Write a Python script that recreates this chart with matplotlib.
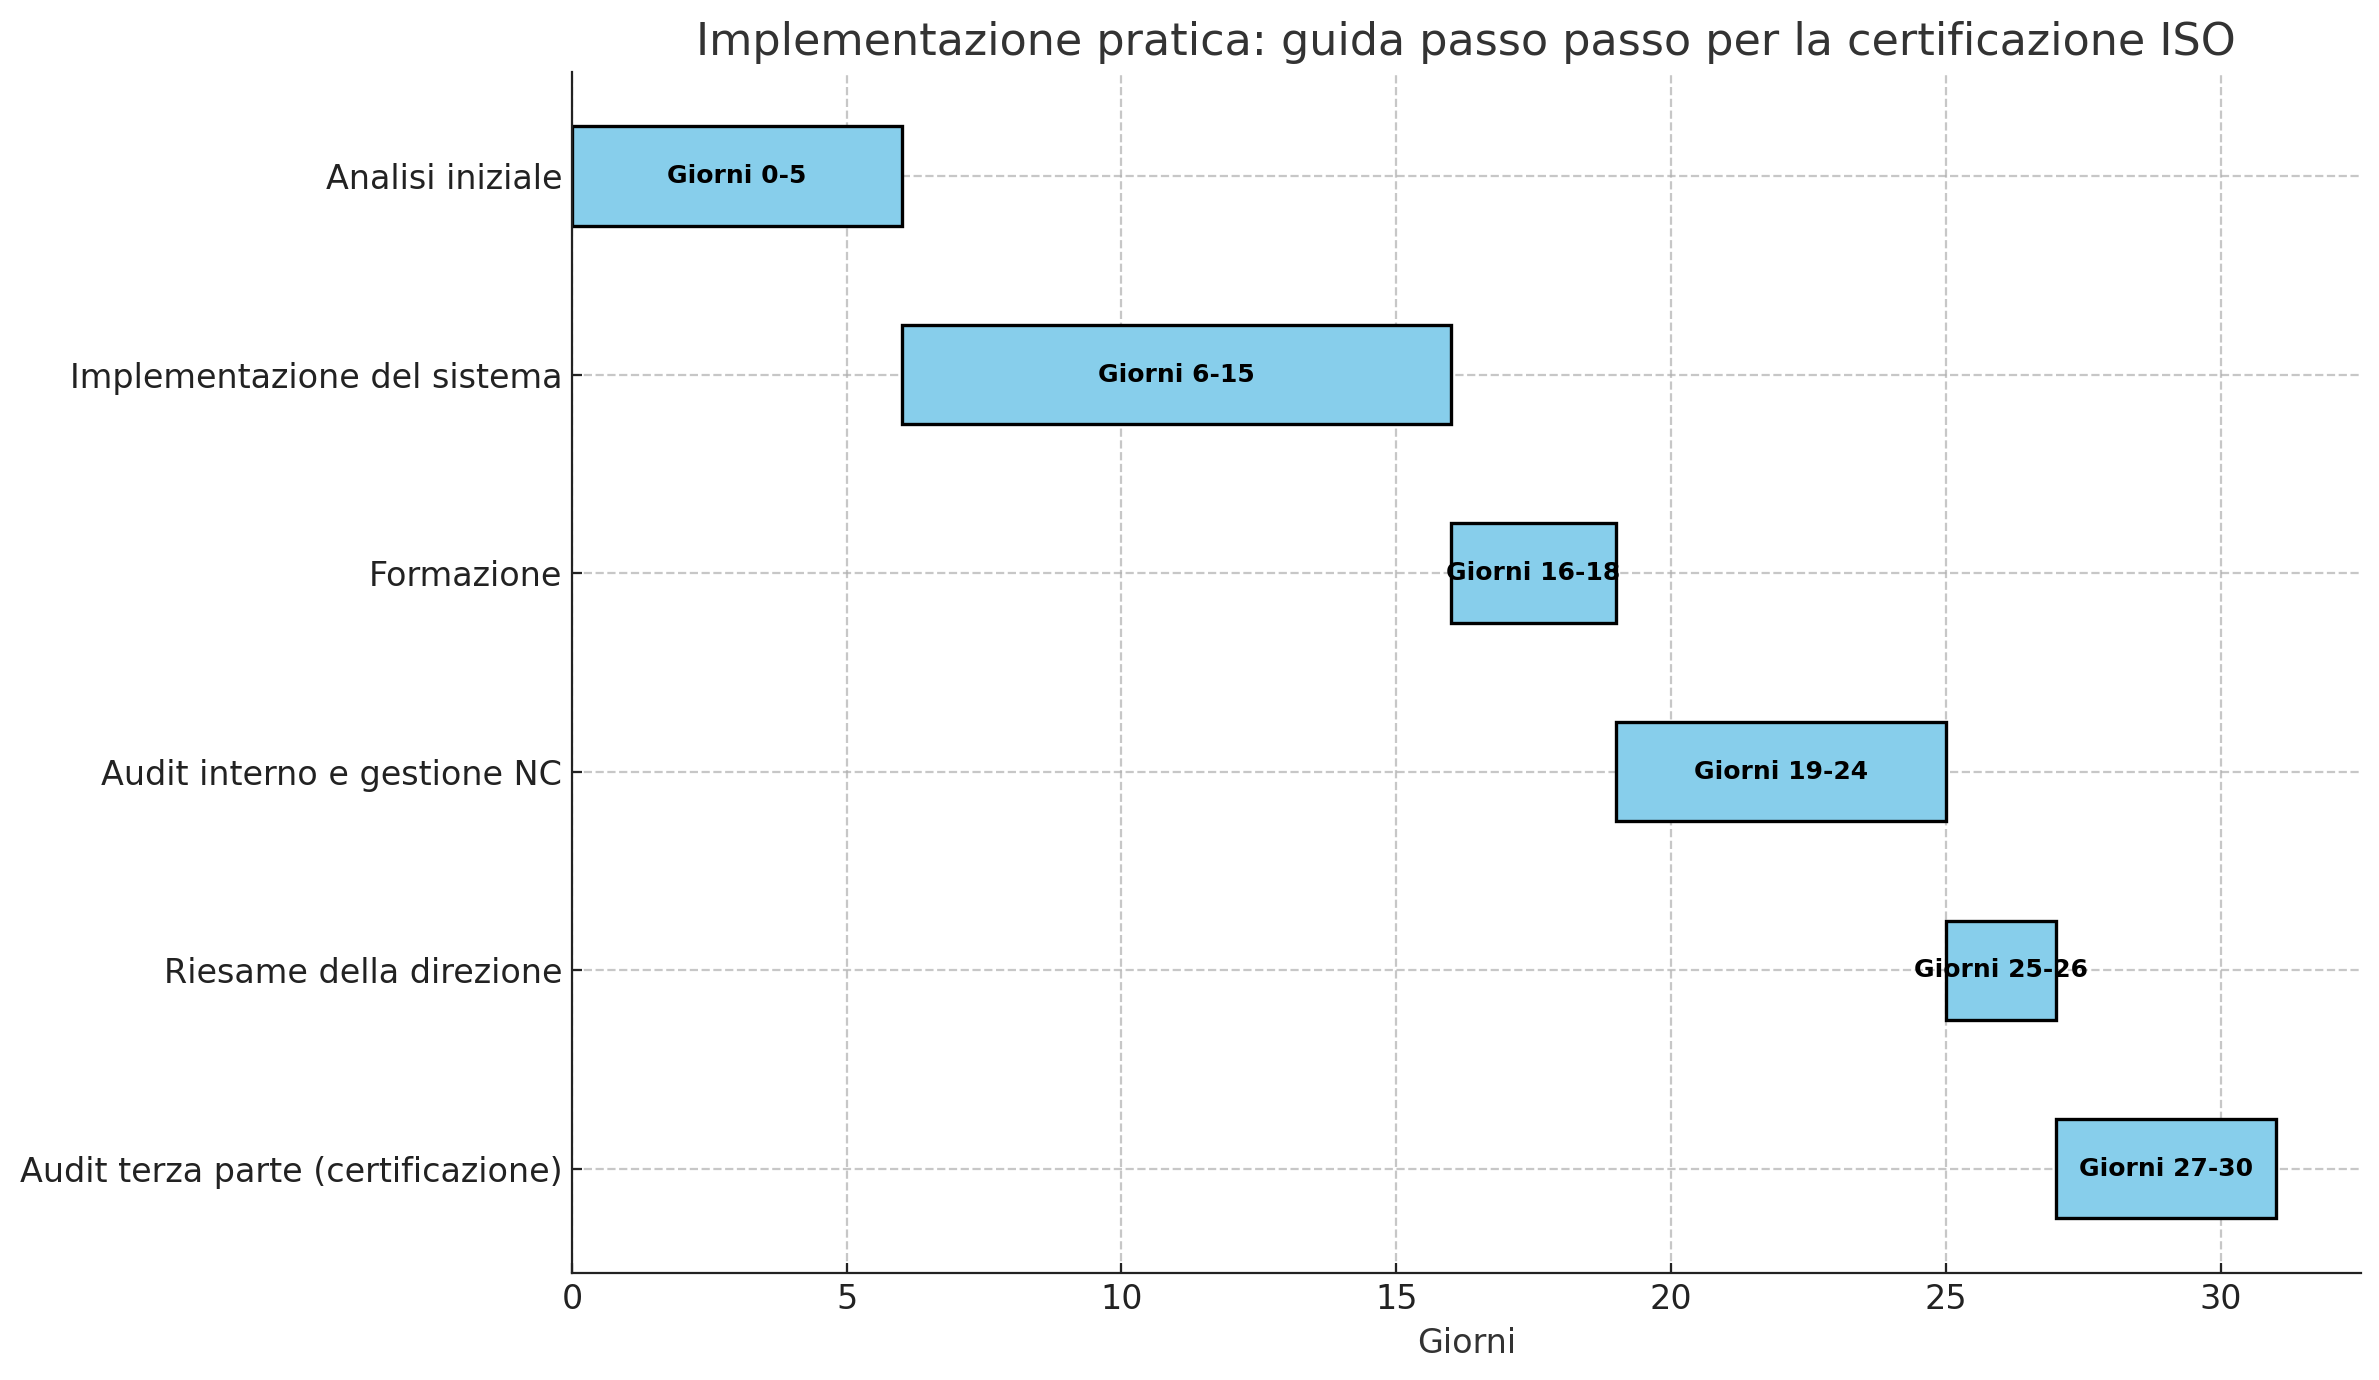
import matplotlib.pyplot as plt

fasi = [
    "Analisi iniziale",
    "Implementazione del sistema",
    "Formazione",
    "Audit interno e gestione NC",
    "Riesame della direzione",
    "Audit terza parte (certificazione)",
]
inizio = [0, 6, 16, 19, 25, 27]
fine = [5, 15, 18, 24, 26, 30]

durata = [f - i + 1 for i, f in zip(inizio, fine)]

fig, ax = plt.subplots(figsize=(2379 / 200, 1380 / 200), dpi=200)
ax.barh(fasi, durata, left=inizio, height=0.5, color="skyblue", edgecolor="black", linewidth=1.2)

for k, (i, d, f) in enumerate(zip(inizio, durata, fine)):
    ax.text(i + d / 2, k, f"Giorni {i}-{f}", ha="center", va="center",
            fontsize=9, fontweight="bold", color="black")

ax.invert_yaxis()
ax.set_xlabel("Giorni", fontsize=12, color="#333333")
ax.set_title("Implementazione pratica: guida passo passo per la certificazione ISO",
             fontsize=16, color="#333333")
ax.tick_params(labelsize=12, direction="in", colors="#222222")
ax.grid(True, linestyle="--", alpha=0.7)
ax.set_axisbelow(True)
ax.spines["top"].set_visible(False)
ax.spines["right"].set_visible(False)
ax.spines["left"].set_color("#222222")
ax.spines["bottom"].set_color("#222222")

fig.subplots_adjust(left=0.2404, right=0.9923, top=0.948, bottom=0.0776)
plt.savefig("out.png")
